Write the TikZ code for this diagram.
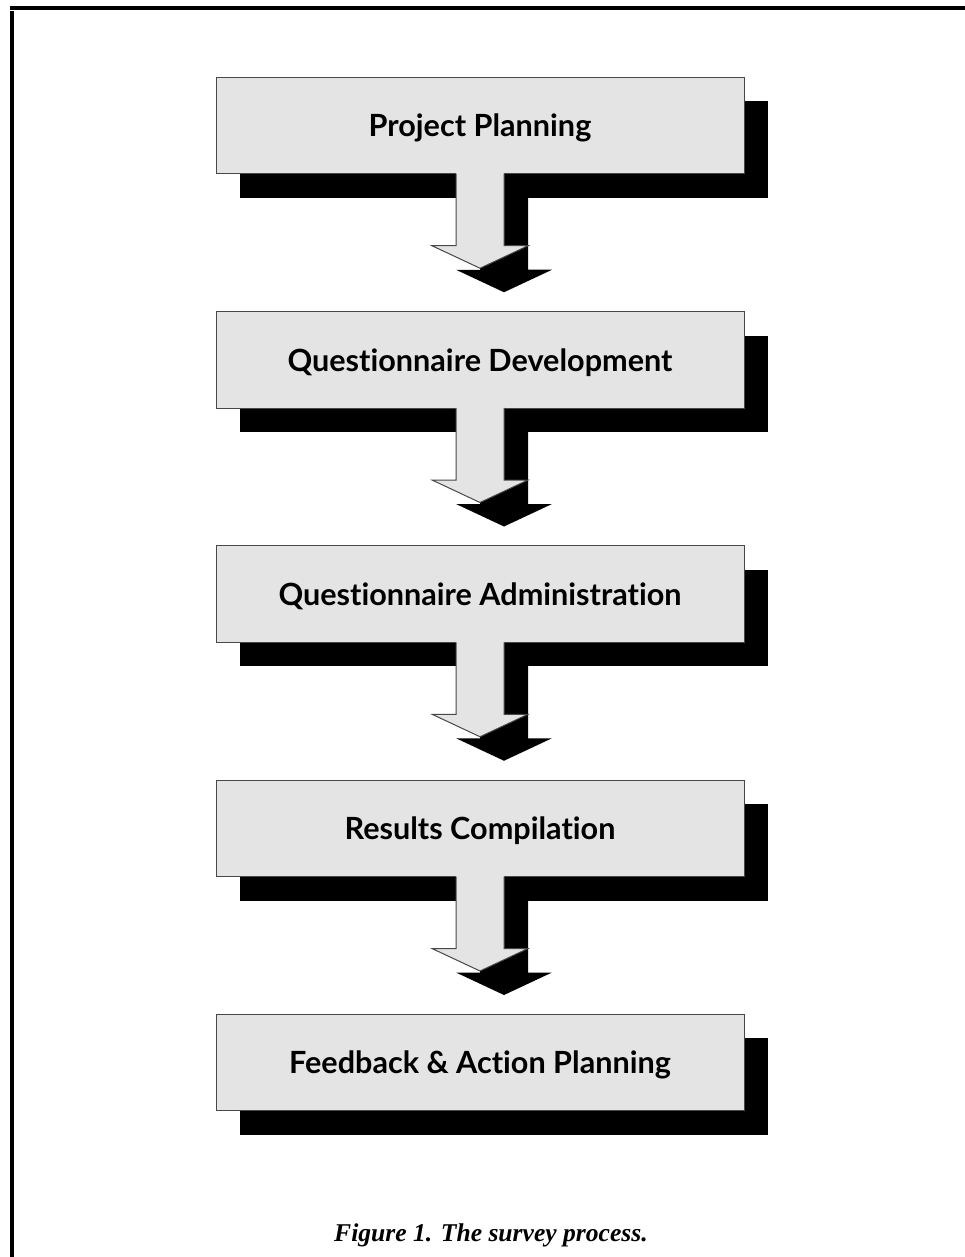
\documentclass[tikz,border=0pt]{standalone}
\usepackage{fontspec}
\usetikzlibrary{calc,backgrounds}
\newfontfamily\stagefont{Lato}[Ligatures=NoCommon]
\newfontfamily\captionfont{Liberation Serif}
\definecolor{stagefill}{RGB}{228,228,228}
\definecolor{stageline}{RGB}{72,72,72}

\begin{document}
\begin{tikzpicture}[x=1pt,y=-1pt,
  stagebox/.style={rectangle, minimum width=528pt, minimum height=96.5pt,
    inner sep=0pt, outer sep=0pt, fill=stagefill, draw=stageline, line width=1pt,
    text depth=0pt,
    font=\stagefont\bfseries\fontsize{30.6}{34}\selectfont},
  dropshadow/.style={fill=black},
  arrowfill/.style={fill=stagefill},
  arrowline/.style={draw=stageline, line width=1pt},
  rule/.style={fill=black}]
\useasboundingbox (0,0) rectangle (965,1257);

% page rules along the top and left edges
\fill[rule] (10,6) rectangle (965,10);
\fill[rule] (10,11) rectangle (14,1257);

% the five stages
\node[stagebox] (plan)       at (480,125.5)  {Project Planning};
\node[stagebox] (develop)    at (480,359.75) {Questionnaire Development};
\node[stagebox] (administer) at (480,594)    {Questionnaire Administration};
\node[stagebox] (compile)    at (480,828.25) {Results Compilation};
\node[stagebox] (feedback)   at (480,1062.5) {Feedback \& Action Planning};

% drop shadows of the boxes
\begin{pgfonlayer}{background}
  \foreach \s in {plan,develop,administer,compile,feedback}
    \fill[dropshadow] ($(\s.north west)+(24,24)$) rectangle ($(\s.south east)+(24,24)$);
\end{pgfonlayer}

% block arrows between consecutive stages
\foreach \a/\b in {plan/develop, develop/administer, administer/compile, compile/feedback} {
  \coordinate (\a-tip) at ($(\a.south)!0.686!(\b.north)$);
  \begin{pgfonlayer}{background}
    \fill[dropshadow] ($(\a.south)+(0,24)$) ++(0,-24) -- ++(0,96) -- ++(-24,0)
      -- ($(\a-tip)+(24,24)$) -- ++(48,-22.5) -- ++(-24,0) -- ++(0,-96) -- cycle;
  \end{pgfonlayer}
  \fill[arrowfill] ($(\a.south)+(-24,-1)$) -- ++(0,73) -- ++(-24,0)
    -- (\a-tip) -- ++(48,-22.5) -- ++(-24,0) -- ++(0,-73) -- cycle;
  \draw[arrowline] ($(\a.south)+(-24,0)$) -- ++(0,72) -- ++(-24,0)
    -- (\a-tip) -- ++(48,-22.5) -- ++(-24,0) -- ++(0,-72);
}

% caption
\node[anchor=base, font=\captionfont\bfseries\itshape\fontsize{25.6}{30}\selectfont]
  (caption) at (491,1241) {Figure 1. The survey process.};
\end{tikzpicture}
\end{document}
